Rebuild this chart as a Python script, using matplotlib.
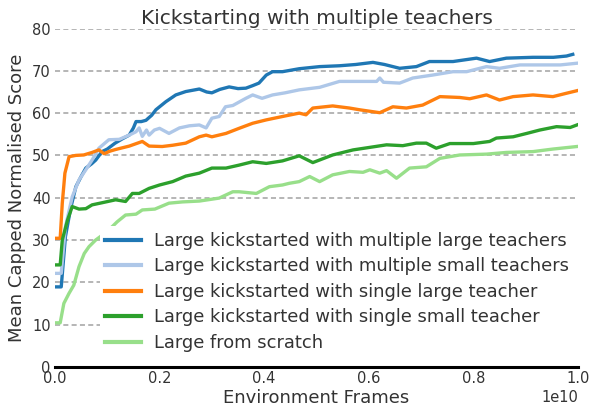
import numpy as np
import matplotlib
matplotlib.use("Agg")
import matplotlib.pyplot as plt

#############################################
# values (x in units of 1e10 frames)
labels = ["Large kickstarted with multiple large teachers",
          "Large kickstarted with multiple small teachers",
          "Large kickstarted with single large teacher",
          "Large kickstarted with single small teacher",
          "Large from scratch"]
colors = ["#1f77b4", "#aec7e8", "#ff7f0e", "#2ca02c", "#98df8a"]

x_multi_large = [0, 0.012, 0.02, 0.03, 0.04, 0.05, 0.059, 0.07, 0.078, 0.09, 0.1, 0.115, 0.13, 0.142,
                 0.15, 0.155, 0.165, 0.174, 0.185, 0.193, 0.212, 0.231, 0.25, 0.276, 0.29, 0.30, 0.315,
                 0.333, 0.35, 0.365, 0.378, 0.39, 0.404, 0.416, 0.435, 0.467, 0.506, 0.544, 0.575,
                 0.608, 0.63, 0.659, 0.691, 0.716, 0.761, 0.806, 0.831, 0.863, 0.914, 0.953, 0.978, 0.99]
y_multi_large = [18.9, 18.9, 30.8, 37.5, 42.6, 45.0, 47.0, 48.0, 48.9, 50.9, 51.5, 52.9, 54.0, 54.8,
                 56.5, 58.0, 58.0, 58.3, 59.5, 60.8, 62.7, 64.3, 65.1, 65.7, 65.0, 64.8, 65.6,
                 66.2, 65.8, 65.9, 66.5, 67.1, 69.0, 69.8, 69.8, 70.5, 71.0, 71.2, 71.5,
                 72.0, 71.5, 70.6, 71.0, 72.2, 72.2, 73.0, 72.2, 73.0, 73.2, 73.2, 73.5, 73.9]

x_multi_small = [0, 0.012, 0.02, 0.033, 0.046, 0.059, 0.071, 0.084, 0.103, 0.123, 0.142, 0.155, 0.161,
                 0.167, 0.175, 0.18, 0.19, 0.2, 0.218, 0.238, 0.257, 0.276, 0.289, 0.30, 0.314, 0.326,
                 0.34, 0.365, 0.378, 0.396, 0.416, 0.44, 0.467, 0.506, 0.544, 0.582, 0.615, 0.621,
                 0.628, 0.659, 0.684, 0.722, 0.761, 0.787, 0.825, 0.85, 0.889, 0.927, 0.966, 0.998]
y_multi_small = [22.1, 22.1, 33.1, 40.2, 44.2, 46.6, 48.9, 51.7, 53.7, 53.8, 54.8, 55.6, 56.5,
                 54.5, 56.0, 54.8, 56.0, 56.4, 55.2, 56.5, 57.0, 57.2, 56.5, 58.8, 59.2, 61.5,
                 61.8, 63.5, 64.3, 63.5, 64.3, 64.8, 65.5, 66.1, 67.5, 67.5, 67.5, 68.3,
                 67.3, 67.1, 68.3, 69.0, 69.8, 69.8, 71.0, 70.6, 71.4, 71.4, 71.4, 71.8]

x_single_large = [0, 0.01, 0.014, 0.019, 0.027, 0.04, 0.055, 0.071, 0.084, 0.094, 0.105, 0.116, 0.142,
                  0.167, 0.18, 0.205, 0.225, 0.25, 0.276, 0.289, 0.30, 0.327, 0.352, 0.378, 0.404,
                  0.435, 0.467, 0.48, 0.493, 0.531, 0.563, 0.582, 0.621, 0.646, 0.672, 0.703, 0.736,
                  0.774, 0.793, 0.825, 0.85, 0.876, 0.914, 0.952, 0.978, 0.998]
y_single_large = [30.4, 30.4, 38.7, 45.8, 49.7, 50.0, 50.1, 50.7, 51.3, 50.4, 51.0, 51.4, 52.2,
                  53.3, 52.2, 52.1, 52.4, 52.9, 54.4, 54.8, 54.4, 55.2, 56.4, 57.6, 58.4,
                  59.2, 60.0, 59.6, 61.2, 61.7, 61.2, 60.8, 60.1, 61.5, 61.2, 61.9, 63.9,
                  63.7, 63.4, 64.3, 63.1, 63.9, 64.3, 63.9, 64.7, 65.3]

x_single_small = [0, 0.01, 0.014, 0.024, 0.033, 0.046, 0.059, 0.071, 0.09, 0.116, 0.135, 0.148, 0.161,
                  0.18, 0.2, 0.225, 0.25, 0.276, 0.30, 0.327, 0.352, 0.378, 0.404, 0.435, 0.467,
                  0.493, 0.531, 0.57, 0.634, 0.665, 0.691, 0.71, 0.729, 0.755, 0.8, 0.831, 0.844,
                  0.876, 0.902, 0.927, 0.959, 0.985, 0.998]
y_single_small = [24.1, 24.1, 30.0, 34.7, 37.9, 37.3, 37.4, 38.3, 38.8, 39.5, 39.1, 41.0, 41.0,
                  42.2, 43.0, 43.8, 45.1, 45.8, 47.0, 47.0, 47.7, 48.5, 48.1, 48.7, 49.9,
                  48.3, 50.1, 51.3, 52.5, 52.3, 52.9, 52.9, 51.7, 52.8, 52.8, 53.3, 54.1,
                  54.4, 55.2, 56.0, 56.8, 56.6, 57.2]

x_scratch = [0, 0.01, 0.017, 0.027, 0.036, 0.046, 0.056, 0.065, 0.078, 0.1, 0.119, 0.135, 0.155,
             0.167, 0.191, 0.218, 0.244, 0.276, 0.314, 0.34, 0.352, 0.385, 0.41, 0.435, 0.448,
             0.467, 0.487, 0.506, 0.531, 0.563, 0.589, 0.602, 0.621, 0.634, 0.653, 0.678, 0.71,
             0.736, 0.774, 0.825, 0.863, 0.914, 0.952, 0.998]
y_scratch = [10.4, 10.4, 15.0, 17.4, 19.3, 23.7, 26.8, 28.4, 30.0, 32.0, 34.3, 35.9, 36.1,
             37.1, 37.3, 38.7, 39.0, 39.2, 39.9, 41.4, 41.4, 41.0, 42.6, 43.0, 43.4,
             43.8, 45.0, 43.8, 45.4, 46.2, 46.0, 46.6, 45.8, 46.4, 44.6, 47.0, 47.3,
             49.3, 50.1, 50.3, 50.7, 50.9, 51.5, 52.1]

xs = [x_multi_large, x_multi_small, x_single_large, x_single_small, x_scratch]
ys = [y_multi_large, y_multi_small, y_single_large, y_single_small, y_scratch]

#############################################
# plotting
text_col = "#333333"
fig = plt.figure(figsize=(5.91, 4.08), dpi=100)
ax = fig.add_axes([0.093, 0.101, 0.885, 0.829])

for x, y, c, lab in zip(xs, ys, colors, labels):
    ax.plot(np.array(x) * 1e10, y, color=c, lw=2.4, label=lab)

ax.set_xlim(0, 1e10)
ax.set_ylim(0, 80)
ax.set_yticks(range(0, 81, 10))
ax.set_xticks(np.arange(0, 1.01, 0.2) * 1e10)
for yv in range(10, 81, 10):
    ax.axhline(yv, color="#b0b0b0", lw=1.3, dashes=(2.8, 1.8), zorder=0)

for s in ["top", "right", "left"]:
    ax.spines[s].set_visible(False)
ax.spines["bottom"].set_color("black")
ax.spines["bottom"].set_linewidth(2.2)
ax.tick_params(length=0, labelsize=10.5, labelcolor=text_col, pad=3)
ax.xaxis.get_offset_text().set_fontsize(10.5)
ax.xaxis.get_offset_text().set_color(text_col)

ax.set_title("Kickstarting with multiple teachers", fontsize=14.5, color=text_col, pad=3)
ax.set_xlabel("Environment Frames", fontsize=13, color=text_col, labelpad=2)
ax.set_ylabel("Mean Capped Normalised Score", fontsize=13, color=text_col, labelpad=4)

leg = ax.legend(loc="lower right", bbox_to_anchor=(0.994, 0.028), borderaxespad=0,
                fontsize=12.9, frameon=True, facecolor="white", edgecolor="none", framealpha=1,
                labelspacing=0.42, handlelength=2.0, handletextpad=0.75, borderpad=0.3, fancybox=False)
for t in leg.get_texts():
    t.set_color(text_col)
for h in leg.get_lines():
    h.set_linewidth(3)

plt.savefig("out.png", dpi=100)
